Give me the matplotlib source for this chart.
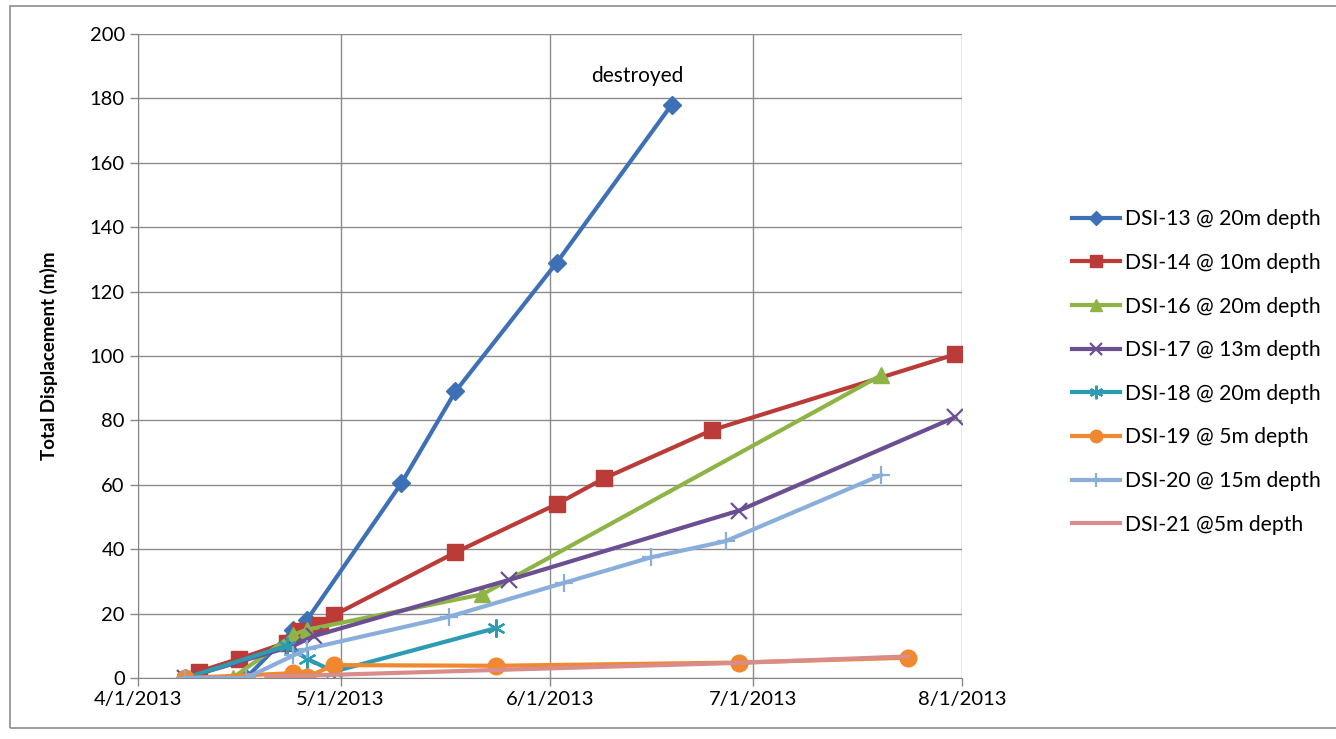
import matplotlib
matplotlib.use("Agg")
import matplotlib.pyplot as plt
import pandas as pd
from matplotlib.patches import Rectangle

plt.rcParams['font.family'] = ['Lato', 'DejaVu Sans']

# readings per inclinometer (date, total displacement)
dsi13_dates = ['2013-04-08', '2013-04-17', '2013-04-24', '2013-04-26', '2013-05-10',
               '2013-05-18', '2013-06-02', '2013-06-19']
dsi13_vals = [0, 0, 15, 18, 60.5, 89, 129, 178]

dsi14_dates = ['2013-04-10', '2013-04-16', '2013-04-23', '2013-04-25', '2013-04-28',
               '2013-04-30', '2013-05-18', '2013-06-02', '2013-06-09', '2013-06-25',
               '2013-07-31']
dsi14_vals = [2, 6, 11, 14.5, 16.5, 19.5, 39, 54, 62, 77, 100.5]

dsi16_dates = ['2013-04-08', '2013-04-15', '2013-04-24', '2013-04-26', '2013-05-22',
               '2013-07-20']
dsi16_vals = [0, 0, 13.5, 15, 26, 94]

dsi17_dates = ['2013-04-08', '2013-04-24', '2013-04-27', '2013-05-26', '2013-06-29',
               '2013-07-31']
dsi17_vals = [0, 10, 13, 30.5, 52, 81]

dsi18_dates = ['2013-04-08', '2013-04-23', '2013-04-26', '2013-04-30', '2013-05-24']
dsi18_vals = [0, 10, 6, 2, 15.5]

dsi19_dates = ['2013-04-08', '2013-04-24', '2013-04-26', '2013-04-30', '2013-05-24',
               '2013-06-29', '2013-07-24']
dsi19_vals = [0, 1.5, 0.3, 4, 3.8, 4.8, 6.3]

dsi20_dates = ['2013-04-08', '2013-04-17', '2013-04-24', '2013-04-26', '2013-05-17',
               '2013-06-03', '2013-06-16', '2013-06-27', '2013-07-20']
dsi20_vals = [0, 0, 7, 9, 19, 29.5, 37.5, 42.5, 63]

dsi21_dates = ['2013-04-20', '2013-04-30', '2013-05-24', '2013-06-29', '2013-07-24']
dsi21_vals = [0.5, 1, 2.5, 4.7, 6.7]

labels = ['DSI-13 @ 20m depth', 'DSI-14 @ 10m depth', 'DSI-16 @ 20m depth',
          'DSI-17 @ 13m depth', 'DSI-18 @ 20m depth', 'DSI-19 @ 5m depth',
          'DSI-20 @ 15m depth', 'DSI-21 @5m depth']

tick_dates = ['2013-04-01', '2013-05-01', '2013-06-01', '2013-07-01', '2013-08-01']
tick_labels = ['4/1/2013', '5/1/2013', '6/1/2013', '7/1/2013', '8/1/2013']

series = [
    (dsi13_dates, dsi13_vals, '#3D70B6', 'D', 9, None),
    (dsi14_dates, dsi14_vals, '#BA3B37', 's', 11, None),
    (dsi16_dates, dsi16_vals, '#8DB444', '^', 11, None),
    (dsi17_dates, dsi17_vals, '#6A4F93', 'x', 12, 1.6),
    (dsi18_dates, dsi18_vals, '#2E9BB5', (6, 2, 0), 13, 1.6),
    (dsi19_dates, dsi19_vals, '#F0882F', 'o', 12, None),
    (dsi20_dates, dsi20_vals, '#8AAEDB', '+', 13, 1.6),
    (dsi21_dates, dsi21_vals, '#D98C8A', None, 0, None),
]

fig = plt.figure(figsize=(13.36, 7.39), dpi=100)
ax = fig.add_axes([138 / 1336, 1 - 678 / 739, 824 / 1336, 644 / 739])

for (d, v, col, mk, ms, mew), lab in zip(series, labels):
    kw = dict(color=col, lw=3, marker=mk, markersize=ms, label=lab,
              markerfacecolor=col, markeredgecolor=col)
    if mew:
        kw['markeredgewidth'] = mew
    ax.plot(pd.to_datetime(d), v, **kw)

ax.text(pd.Timestamp('2013-06-14'), 187, 'destroyed', ha='center', va='center', fontsize=15)

ax.set_xlim(pd.Timestamp(tick_dates[0]), pd.Timestamp(tick_dates[-1]))
ax.set_ylim(0, 200)
ax.set_yticks(range(0, 201, 20))
ax.set_xticks(pd.to_datetime(tick_dates))
ax.set_xticklabels(tick_labels)
ax.tick_params(labelsize=14.5, length=6, color='#868686', width=1)
ax.grid(True, color='#8c8c8c', lw=1)
ax.set_axisbelow(True)
for s in ['top', 'right']:
    ax.spines[s].set_visible(False)
for s in ['left', 'bottom']:
    ax.spines[s].set_color('#868686')
ax.set_ylabel('Total Displacement (m)m', fontsize=13.5, fontweight='bold')
ax.yaxis.set_label_coords((58 - 138) / 824, 0.5)

ax.legend(loc='center left', bbox_to_anchor=(1053 / 1336, 1 - 372 / 739),
          bbox_transform=fig.transFigure, frameon=False, fontsize=15.2,
          handlelength=2.25, labelspacing=1.12, handletextpad=0.25, markerscale=0.75)

fig.patches.append(Rectangle((10 / 1336, 1 - 728 / 739), 1330 / 1336, 722 / 739,
                             transform=fig.transFigure, fill=False,
                             edgecolor='#8c8c8c', lw=1.2))

fig.savefig('out.png', dpi=100)
